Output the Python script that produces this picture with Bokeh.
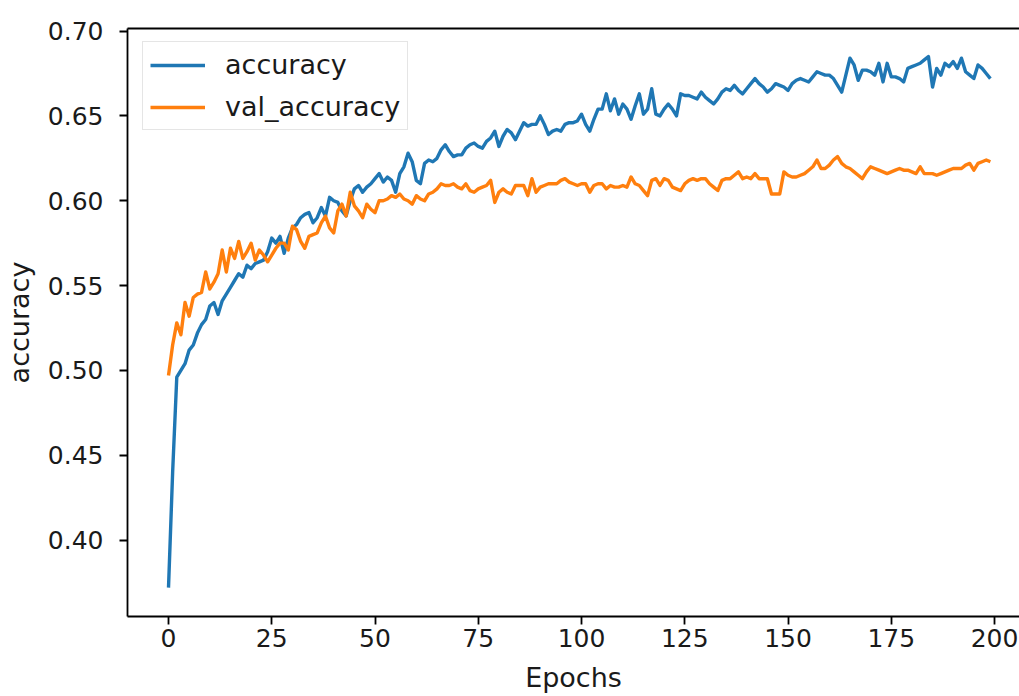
from bokeh.plotting import figure
from bokeh.models import Range1d, FixedTicker, NumeralTickFormatter, LinearAxis, Legend, LegendItem
from bokeh.embed import file_html
from bokeh.resources import INLINE

epochs = list(range(200))

accuracy = [
    0.372, 0.440, 0.496, 0.500, 0.504, 0.512, 0.515, 0.522, 0.527, 0.530,
    0.538, 0.540, 0.533, 0.541, 0.545, 0.549, 0.553, 0.557, 0.555, 0.562,
    0.560, 0.563, 0.564, 0.565, 0.570, 0.578, 0.575, 0.579, 0.569, 0.578,
    0.584, 0.586, 0.590, 0.592, 0.593, 0.587, 0.590, 0.596, 0.591, 0.602,
    0.600, 0.599, 0.594, 0.591, 0.600, 0.607, 0.609, 0.605, 0.608, 0.610,
    0.613, 0.616, 0.611, 0.614, 0.612, 0.605, 0.616, 0.620, 0.628, 0.623,
    0.612, 0.610, 0.622, 0.624, 0.623, 0.625, 0.630, 0.633, 0.629, 0.626,
    0.627, 0.627, 0.631, 0.633, 0.634, 0.632, 0.631, 0.635, 0.637, 0.641,
    0.632, 0.638, 0.642, 0.640, 0.636, 0.641, 0.646, 0.644, 0.645, 0.645,
    0.650, 0.645, 0.639, 0.641, 0.642, 0.641, 0.645, 0.646, 0.646, 0.647,
    0.651, 0.645, 0.641, 0.648, 0.654, 0.654, 0.663, 0.653, 0.660, 0.651,
    0.657, 0.654, 0.648, 0.656, 0.663, 0.651, 0.654, 0.666, 0.651, 0.650,
    0.654, 0.657, 0.654, 0.650, 0.663, 0.662, 0.662, 0.661, 0.660, 0.664,
    0.661, 0.659, 0.657, 0.660, 0.664, 0.666, 0.665, 0.668, 0.665, 0.663,
    0.666, 0.669, 0.672, 0.669, 0.667, 0.664, 0.666, 0.669, 0.668, 0.667,
    0.665, 0.669, 0.671, 0.672, 0.671, 0.670, 0.673, 0.676, 0.675, 0.674,
    0.674, 0.672, 0.668, 0.664, 0.674, 0.684, 0.680, 0.671, 0.677, 0.677,
    0.676, 0.674, 0.681, 0.670, 0.681, 0.673, 0.673, 0.672, 0.670, 0.678,
    0.679, 0.680, 0.681, 0.683, 0.685, 0.667, 0.678, 0.674, 0.681, 0.679,
    0.682, 0.678, 0.684, 0.676, 0.674, 0.672, 0.680, 0.678, 0.675, 0.672,
]

val_accuracy = [
    0.497, 0.515, 0.528, 0.521, 0.540, 0.532, 0.543, 0.545, 0.546, 0.558,
    0.548, 0.552, 0.557, 0.571, 0.558, 0.572, 0.566, 0.576, 0.566, 0.570,
    0.575, 0.565, 0.571, 0.568, 0.564, 0.568, 0.572, 0.575, 0.575, 0.571,
    0.585, 0.583, 0.576, 0.572, 0.579, 0.580, 0.581, 0.587, 0.591, 0.584,
    0.581, 0.594, 0.598, 0.591, 0.605, 0.597, 0.594, 0.590, 0.598, 0.595,
    0.593, 0.600, 0.600, 0.601, 0.603, 0.602, 0.604, 0.601, 0.600, 0.598,
    0.603, 0.601, 0.600, 0.604, 0.605, 0.607, 0.610, 0.609, 0.609, 0.610,
    0.608, 0.607, 0.610, 0.606, 0.605, 0.607, 0.608, 0.609, 0.612, 0.599,
    0.605, 0.607, 0.605, 0.604, 0.609, 0.609, 0.609, 0.603, 0.613, 0.605,
    0.608, 0.609, 0.610, 0.610, 0.610, 0.612, 0.613, 0.611, 0.610, 0.609,
    0.610, 0.610, 0.605, 0.609, 0.610, 0.610, 0.607, 0.609, 0.608, 0.608,
    0.609, 0.608, 0.614, 0.610, 0.609, 0.606, 0.603, 0.612, 0.613, 0.609,
    0.613, 0.612, 0.608, 0.607, 0.606, 0.610, 0.612, 0.613, 0.612, 0.613,
    0.613, 0.610, 0.608, 0.606, 0.612, 0.613, 0.613, 0.615, 0.617, 0.613,
    0.614, 0.613, 0.616, 0.613, 0.613, 0.613, 0.604, 0.604, 0.604, 0.617,
    0.615, 0.614, 0.614, 0.615, 0.616, 0.618, 0.620, 0.624, 0.619, 0.619,
    0.621, 0.624, 0.626, 0.622, 0.620, 0.619, 0.617, 0.615, 0.613, 0.617,
    0.620, 0.619, 0.618, 0.617, 0.616, 0.617, 0.618, 0.619, 0.618, 0.618,
    0.617, 0.616, 0.620, 0.616, 0.616, 0.616, 0.615, 0.616, 0.617, 0.618,
    0.619, 0.619, 0.619, 0.621, 0.622, 0.618, 0.622, 0.623, 0.624, 0.623,
]

x_ticks = [0, 25, 50, 75, 100, 125, 150, 175, 200]
y_ticks = [0.40, 0.45, 0.50, 0.55, 0.60, 0.65, 0.70]

FONT = "DejaVu Sans"
TICK_FS = "25px"
LABEL_FS = "27px"

p = figure(width=1019, height=696, output_backend="svg", toolbar_location=None,
           x_range=Range1d(-9.93, 206.05), y_range=Range1d(0.355, 0.7015),
           min_border_left=127, min_border_right=0, min_border_top=28, min_border_bottom=80)
p.outline_line_color = None
p.grid.visible = False
p.background_fill_color = "white"
p.border_fill_color = "white"

r1 = p.line(epochs, accuracy, line_color="#1f77b4", line_width=3.4, line_join="round")
r2 = p.line(epochs, val_accuracy, line_color="#ff7f0e", line_width=3.4, line_join="round")

for ax in (p.xaxis[0], p.yaxis[0]):
    ax.axis_line_width = 1.8
    ax.axis_line_color = "black"
    ax.major_tick_line_width = 1.8
    ax.major_tick_line_color = "black"
    ax.major_tick_out = 8
    ax.major_tick_in = 0
    ax.minor_tick_line_color = None
    ax.major_label_text_font = FONT
    ax.major_label_text_font_size = TICK_FS
    ax.major_label_text_color = "#1a1a1a"
    ax.axis_label_text_font = FONT
    ax.axis_label_text_font_size = LABEL_FS
    ax.axis_label_text_font_style = "normal"
    ax.axis_label_text_color = "#1a1a1a"

p.xaxis.ticker = FixedTicker(ticks=x_ticks)
p.yaxis.ticker = FixedTicker(ticks=y_ticks)
p.yaxis.formatter = NumeralTickFormatter(format="0.00")
p.xaxis.axis_label = "Epochs"
p.yaxis.axis_label = "accuracy"
p.xaxis.major_label_standoff = 4
p.yaxis.major_label_standoff = 16
p.xaxis.axis_label_standoff = 12
p.yaxis.axis_label_standoff = 10

top = LinearAxis(ticker=FixedTicker(ticks=[]), major_label_text_font_size="0px",
                 axis_line_width=1.8, axis_line_color="black",
                 major_tick_line_color=None, minor_tick_line_color=None)
p.add_layout(top, "above")

legend = Legend(items=[LegendItem(label="accuracy", renderers=[r1]),
                       LegendItem(label="val_accuracy", renderers=[r2])],
                location=(15, 486), orientation="vertical")
legend.label_text_font = FONT
legend.label_text_font_size = LABEL_FS
legend.label_text_color = "#1a1a1a"
legend.glyph_width = 55
legend.glyph_height = 28
legend.label_height = 28
legend.label_standoff = 20
legend.spacing = 11
legend.padding = 7
legend.margin = 0
legend.border_line_color = "#cccccc"
legend.border_line_width = 1.8
legend.background_fill_alpha = 0.8
p.add_layout(legend)

open("out.html", "w").write(file_html(p, INLINE))
